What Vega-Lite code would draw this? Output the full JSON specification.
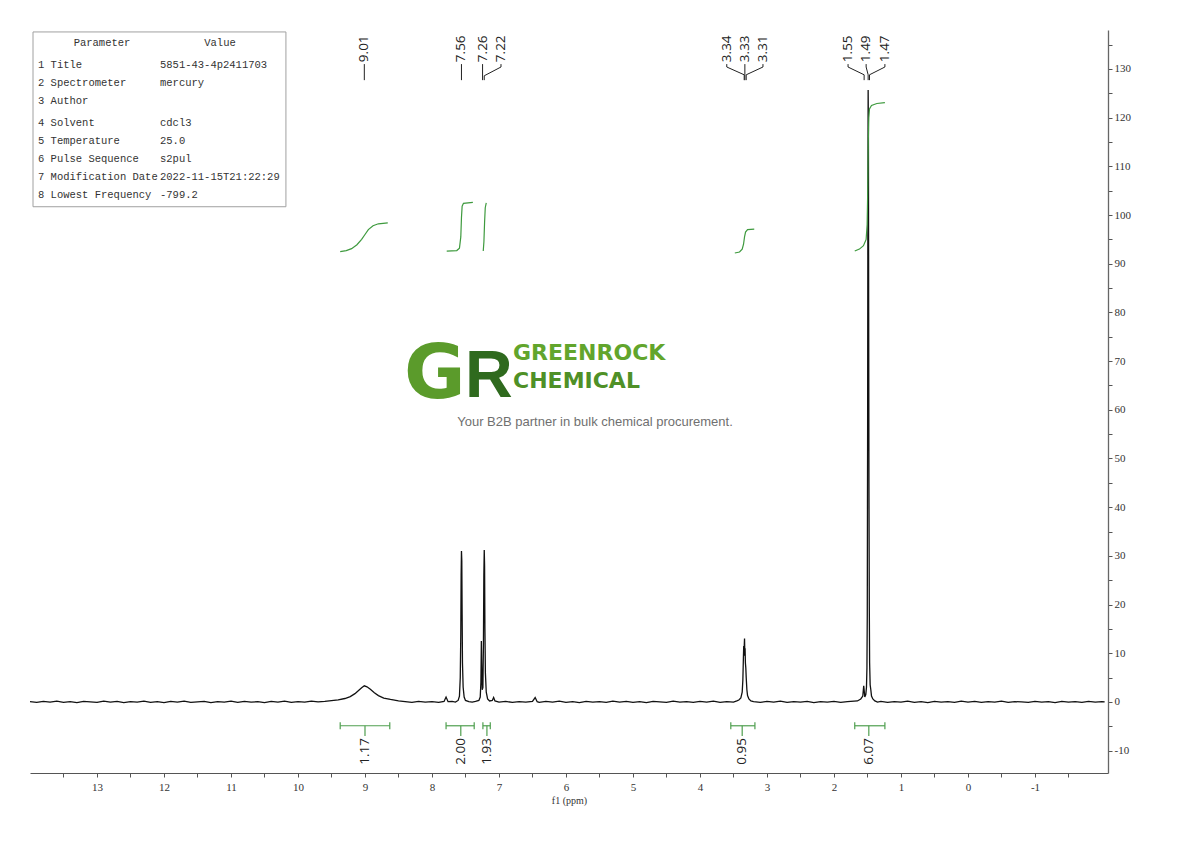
{
  "$schema": "https://vega.github.io/schema/vega-lite/v6.json",
  "width": 1078,
  "height": 743,
  "autosize": {"type": "none"},
  "padding": {"left": 30, "top": 30, "right": 82, "bottom": 68},
  "background": "white",
  "config": {"view": {"stroke": null}},
  "resolve": {"axis": {"x": "independent", "y": "independent"}},
  "datasets": {
    "spectrum": [
      {"ppm":14.0,"val":0.05},{"ppm":13.9,"val":-0.1},{"ppm":13.8,"val":0.1},{"ppm":13.7,"val":-0.05},{"ppm":13.6,"val":0.15},{"ppm":13.5,"val":-0.1},{"ppm":13.4,"val":0.05},{"ppm":13.3,"val":-0.15},{"ppm":13.2,"val":0.1},{"ppm":13.1,"val":0.0},
      {"ppm":13.0,"val":-0.1},{"ppm":12.9,"val":0.15},{"ppm":12.8,"val":-0.05},{"ppm":12.7,"val":0.1},{"ppm":12.6,"val":-0.15},{"ppm":12.5,"val":0.05},{"ppm":12.4,"val":-0.05},{"ppm":12.3,"val":0.15},{"ppm":12.2,"val":-0.1},{"ppm":12.1,"val":0.05},
      {"ppm":12.0,"val":-0.15},{"ppm":11.9,"val":0.1},{"ppm":11.8,"val":-0.05},{"ppm":11.7,"val":0.15},{"ppm":11.6,"val":-0.1},{"ppm":11.5,"val":0.0},{"ppm":11.4,"val":0.1},{"ppm":11.3,"val":-0.15},{"ppm":11.2,"val":0.05},{"ppm":11.1,"val":-0.05},
      {"ppm":11.0,"val":0.15},{"ppm":10.9,"val":-0.1},{"ppm":10.8,"val":0.1},{"ppm":10.7,"val":-0.05},{"ppm":10.6,"val":0.05},{"ppm":10.5,"val":-0.15},{"ppm":10.4,"val":0.1},{"ppm":10.3,"val":-0.05},{"ppm":10.2,"val":0.15},{"ppm":10.1,"val":-0.1},
      {"ppm":10.0,"val":0.05},{"ppm":9.9,"val":-0.05},{"ppm":9.8,"val":0.15},{"ppm":9.7,"val":0.0},{"ppm":9.6,"val":0.1},{"ppm":9.5,"val":0.25},{"ppm":9.4,"val":0.4},{"ppm":9.3,"val":0.7},{"ppm":9.22,"val":1.1},{"ppm":9.15,"val":1.7},
      {"ppm":9.1,"val":2.3},{"ppm":9.05,"val":2.9},{"ppm":9.01,"val":3.3},{"ppm":8.97,"val":3.1},{"ppm":8.92,"val":2.6},{"ppm":8.86,"val":1.9},{"ppm":8.8,"val":1.3},{"ppm":8.72,"val":0.8},{"ppm":8.62,"val":0.5},{"ppm":8.5,"val":0.2},
      {"ppm":8.4,"val":0.05},{"ppm":8.3,"val":-0.1},{"ppm":8.2,"val":0.1},{"ppm":8.1,"val":-0.05},{"ppm":8.0,"val":0.05},{"ppm":7.9,"val":-0.1},{"ppm":7.82,"val":0.1},{"ppm":7.79,"val":1.0},{"ppm":7.76,"val":0.05},{"ppm":7.7,"val":0.1},
      {"ppm":7.65,"val":-0.05},{"ppm":7.61,"val":0.3},{"ppm":7.59,"val":1.2},{"ppm":7.578,"val":5},{"ppm":7.57,"val":14},{"ppm":7.565,"val":26},{"ppm":7.56,"val":31},{"ppm":7.555,"val":29},{"ppm":7.55,"val":18},{"ppm":7.545,"val":8},
      {"ppm":7.535,"val":3},{"ppm":7.52,"val":1.0},{"ppm":7.5,"val":0.3},{"ppm":7.45,"val":0.05},{"ppm":7.4,"val":-0.05},{"ppm":7.35,"val":0.1},{"ppm":7.3,"val":0.3},{"ppm":7.28,"val":1.0},{"ppm":7.27,"val":4},{"ppm":7.263,"val":12.5},
      {"ppm":7.258,"val":8},{"ppm":7.25,"val":2.5},{"ppm":7.24,"val":3},{"ppm":7.232,"val":12},{"ppm":7.226,"val":26},{"ppm":7.22,"val":31.2},{"ppm":7.215,"val":28},{"ppm":7.21,"val":15},{"ppm":7.203,"val":6},{"ppm":7.19,"val":2},
      {"ppm":7.17,"val":0.6},{"ppm":7.14,"val":0.2},{"ppm":7.1,"val":0.3},{"ppm":7.08,"val":0.9},{"ppm":7.06,"val":0.2},{"ppm":7.0,"val":-0.05},{"ppm":6.9,"val":0.1},{"ppm":6.8,"val":-0.1},{"ppm":6.7,"val":0.05},{"ppm":6.6,"val":-0.05},
      {"ppm":6.5,"val":0.1},{"ppm":6.46,"val":0.9},{"ppm":6.43,"val":0.05},{"ppm":6.4,"val":-0.1},{"ppm":6.3,"val":0.1},{"ppm":6.2,"val":-0.05},{"ppm":6.1,"val":0.15},{"ppm":6.0,"val":-0.1},{"ppm":5.9,"val":0.05},{"ppm":5.8,"val":-0.15},
      {"ppm":5.7,"val":0.1},{"ppm":5.6,"val":-0.05},{"ppm":5.5,"val":0.05},{"ppm":5.4,"val":-0.1},{"ppm":5.3,"val":0.15},{"ppm":5.2,"val":-0.05},{"ppm":5.1,"val":0.1},{"ppm":5.0,"val":-0.1},{"ppm":4.9,"val":0.05},{"ppm":4.8,"val":-0.15},
      {"ppm":4.7,"val":0.1},{"ppm":4.6,"val":0.0},{"ppm":4.5,"val":-0.1},{"ppm":4.4,"val":0.15},{"ppm":4.3,"val":-0.05},{"ppm":4.2,"val":0.05},{"ppm":4.1,"val":-0.1},{"ppm":4.0,"val":0.1},{"ppm":3.9,"val":-0.05},{"ppm":3.8,"val":0.15},
      {"ppm":3.7,"val":-0.1},{"ppm":3.6,"val":0.05},{"ppm":3.5,"val":-0.05},{"ppm":3.45,"val":0.2},{"ppm":3.42,"val":0.4},{"ppm":3.39,"val":0.8},{"ppm":3.37,"val":2},{"ppm":3.36,"val":4.5},{"ppm":3.352,"val":9},{"ppm":3.347,"val":11.5},
      {"ppm":3.343,"val":9.5},{"ppm":3.338,"val":12},{"ppm":3.335,"val":13},{"ppm":3.331,"val":10},{"ppm":3.327,"val":11},{"ppm":3.322,"val":8},{"ppm":3.316,"val":7},{"ppm":3.31,"val":5},{"ppm":3.3,"val":2.5},{"ppm":3.29,"val":1.3},
      {"ppm":3.27,"val":0.6},{"ppm":3.24,"val":0.2},{"ppm":3.2,"val":0.05},{"ppm":3.1,"val":-0.1},{"ppm":3.0,"val":0.1},{"ppm":2.9,"val":-0.05},{"ppm":2.8,"val":0.15},{"ppm":2.7,"val":-0.1},{"ppm":2.6,"val":0.05},{"ppm":2.5,"val":-0.05},
      {"ppm":2.4,"val":0.1},{"ppm":2.3,"val":-0.15},{"ppm":2.2,"val":0.05},{"ppm":2.1,"val":-0.05},{"ppm":2.0,"val":0.1},{"ppm":1.9,"val":-0.1},{"ppm":1.8,"val":0.05},{"ppm":1.7,"val":0.15},{"ppm":1.65,"val":0.2},{"ppm":1.6,"val":0.6},
      {"ppm":1.57,"val":1.2},{"ppm":1.556,"val":3.3},{"ppm":1.55,"val":2.5},{"ppm":1.54,"val":1.0},{"ppm":1.525,"val":1.5},{"ppm":1.515,"val":3},{"ppm":1.508,"val":7},{"ppm":1.503,"val":18},{"ppm":1.498,"val":55},{"ppm":1.494,"val":100},
      {"ppm":1.49,"val":125.7},{"ppm":1.486,"val":117},{"ppm":1.482,"val":80},{"ppm":1.478,"val":45},{"ppm":1.473,"val":20},{"ppm":1.468,"val":8},{"ppm":1.46,"val":3.5},{"ppm":1.45,"val":2.5},{"ppm":1.44,"val":1.2},{"ppm":1.42,"val":0.6},
      {"ppm":1.39,"val":0.2},{"ppm":1.35,"val":-0.05},{"ppm":1.3,"val":0.1},{"ppm":1.2,"val":-0.1},{"ppm":1.1,"val":0.05},{"ppm":1.0,"val":-0.05},{"ppm":0.9,"val":0.15},{"ppm":0.8,"val":-0.1},{"ppm":0.7,"val":0.05},{"ppm":0.6,"val":-0.15},
      {"ppm":0.5,"val":0.1},{"ppm":0.4,"val":-0.05},{"ppm":0.3,"val":0.05},{"ppm":0.2,"val":-0.1},{"ppm":0.1,"val":0.15},{"ppm":0.0,"val":-0.05},{"ppm":-0.1,"val":0.1},{"ppm":-0.2,"val":-0.1},{"ppm":-0.3,"val":0.05},{"ppm":-0.4,"val":-0.05},
      {"ppm":-0.5,"val":0.15},{"ppm":-0.6,"val":-0.1},{"ppm":-0.7,"val":0.05},{"ppm":-0.8,"val":0.0},{"ppm":-0.9,"val":-0.1},{"ppm":-1.0,"val":0.1},{"ppm":-1.1,"val":-0.05},{"ppm":-1.2,"val":0.05},{"ppm":-1.3,"val":-0.15},{"ppm":-1.4,"val":0.1},
      {"ppm":-1.5,"val":-0.05},{"ppm":-1.6,"val":0.05},{"ppm":-1.7,"val":-0.1},{"ppm":-1.8,"val":0.1},{"ppm":-1.9,"val":-0.05},{"ppm":-2.0,"val":0.05},{"ppm":-2.04,"val":0.0}
    ],
    "integrals": [
      {"curve":"A","ppm":9.37,"val":92.5},{"curve":"A","ppm":9.28,"val":92.7},{"curve":"A","ppm":9.2,"val":93.1},{"curve":"A","ppm":9.12,"val":93.9},{"curve":"A","ppm":9.05,"val":95.0},{"curve":"A","ppm":9.0,"val":96.0},{"curve":"A","ppm":8.95,"val":97.0},{"curve":"A","ppm":8.88,"val":97.8},{"curve":"A","ppm":8.8,"val":98.2},{"curve":"A","ppm":8.66,"val":98.4},
      {"curve":"B","ppm":7.78,"val":92.6},{"curve":"B","ppm":7.63,"val":92.7},{"curve":"B","ppm":7.59,"val":93.2},{"curve":"B","ppm":7.57,"val":95.5},{"curve":"B","ppm":7.56,"val":99.5},{"curve":"B","ppm":7.55,"val":101.8},{"curve":"B","ppm":7.53,"val":102.4},{"curve":"B","ppm":7.39,"val":102.6},
      {"curve":"C","ppm":7.235,"val":92.6},{"curve":"C","ppm":7.225,"val":94.5},{"curve":"C","ppm":7.215,"val":98.5},{"curve":"C","ppm":7.205,"val":101.5},{"curve":"C","ppm":7.19,"val":102.5},
      {"curve":"D","ppm":3.48,"val":92.2},{"curve":"D","ppm":3.41,"val":92.4},{"curve":"D","ppm":3.37,"val":93.0},{"curve":"D","ppm":3.35,"val":94.0},{"curve":"D","ppm":3.335,"val":95.5},{"curve":"D","ppm":3.32,"val":96.5},{"curve":"D","ppm":3.29,"val":97.0},{"curve":"D","ppm":3.19,"val":97.1},
      {"curve":"E","ppm":1.69,"val":92.6},{"curve":"E","ppm":1.62,"val":93.0},{"curve":"E","ppm":1.56,"val":93.7},{"curve":"E","ppm":1.52,"val":95.0},{"curve":"E","ppm":1.505,"val":98.0},{"curve":"E","ppm":1.495,"val":106.0},{"curve":"E","ppm":1.488,"val":115.0},{"curve":"E","ppm":1.48,"val":120.0},{"curve":"E","ppm":1.47,"val":121.8},{"curve":"E","ppm":1.44,"val":122.5},{"curve":"E","ppm":1.36,"val":122.9},{"curve":"E","ppm":1.24,"val":123.1}
    ],
    "intbars": [
      {"label":"1.17","from":9.37,"to":8.63,"center":9.0},
      {"label":"2.00","from":7.79,"to":7.37,"center":7.57},
      {"label":"1.93","from":7.24,"to":7.13,"center":7.18},
      {"label":"0.95","from":3.54,"to":3.18,"center":3.37},
      {"label":"6.07","from":1.69,"to":1.24,"center":1.48}
    ],
    "peaklabels": [
      {"label":"9.01","lx":9.01},{"label":"7.56","lx":7.56},{"label":"7.26","lx":7.245},{"label":"7.22","lx":6.97},
      {"label":"3.34","lx":3.6},{"label":"3.33","lx":3.33},{"label":"3.31","lx":3.06},
      {"label":"1.55","lx":1.79},{"label":"1.49","lx":1.52},{"label":"1.47","lx":1.24}
    ],
    "connectors": [
      {"id":"a","ord":0,"ppm":9.01,"val":131.0},{"id":"a","ord":1,"ppm":9.01,"val":127.7},
      {"id":"b","ord":0,"ppm":7.56,"val":131.0},{"id":"b","ord":1,"ppm":7.56,"val":127.7},
      {"id":"c","ord":0,"ppm":7.245,"val":131.0},{"id":"c","ord":1,"ppm":7.245,"val":127.7},
      {"id":"d","ord":0,"ppm":6.97,"val":131.0},{"id":"d","ord":1,"ppm":6.97,"val":130.4},{"id":"d","ord":2,"ppm":7.22,"val":128.6},{"id":"d","ord":3,"ppm":7.22,"val":127.7},
      {"id":"e","ord":0,"ppm":3.6,"val":131.0},{"id":"e","ord":1,"ppm":3.6,"val":130.4},{"id":"e","ord":2,"ppm":3.34,"val":128.8},{"id":"e","ord":3,"ppm":3.34,"val":127.7},
      {"id":"f","ord":0,"ppm":3.33,"val":131.0},{"id":"f","ord":1,"ppm":3.33,"val":127.7},
      {"id":"g","ord":0,"ppm":3.06,"val":131.0},{"id":"g","ord":1,"ppm":3.06,"val":130.4},{"id":"g","ord":2,"ppm":3.31,"val":128.8},{"id":"g","ord":3,"ppm":3.31,"val":127.7},
      {"id":"h","ord":0,"ppm":1.79,"val":131.0},{"id":"h","ord":1,"ppm":1.79,"val":130.4},{"id":"h","ord":2,"ppm":1.55,"val":128.8},{"id":"h","ord":3,"ppm":1.55,"val":127.7},
      {"id":"i","ord":0,"ppm":1.52,"val":131.0},{"id":"i","ord":1,"ppm":1.52,"val":130.4},{"id":"i","ord":2,"ppm":1.49,"val":128.8},{"id":"i","ord":3,"ppm":1.49,"val":127.7},
      {"id":"j","ord":0,"ppm":1.24,"val":131.0},{"id":"j","ord":1,"ppm":1.24,"val":130.4},{"id":"j","ord":2,"ppm":1.47,"val":128.8},{"id":"j","ord":3,"ppm":1.47,"val":127.7}
    ]
  },
  "layer": [
    {
      "data": {"name": "spectrum"},
      "mark": {"type": "line", "color": "#111111", "strokeWidth": 1.3},
      "encoding": {
        "x": {
          "field": "ppm", "type": "quantitative",
          "scale": {"domain": [-2.09, 14.0], "reverse": true, "nice": false, "zero": false},
          "axis": {
            "orient": "bottom",
            "values": [13.5,13,12.5,12,11.5,11,10.5,10,9.5,9,8.5,8,7.5,7,6.5,6,5.5,5,4.5,4,3.5,3,2.5,2,1.5,1,0.5,0,-0.5,-1,-1.5],
            "labelExpr": "datum.value % 1 === 0 ? '' + datum.value : ''",
            "grid": false, "tickSize": 4, "tickColor": "#555555", "domainColor": "#555555",
            "labelColor": "#333333", "labelFont": "Liberation Serif", "labelFontSize": 11, "labelPadding": 4,
            "labelFlush": false, "labelOverlap": false,
            "title": "f1 (ppm)", "titleFont": "Liberation Serif", "titleFontSize": 10, "titleFontWeight": "normal",
            "titleColor": "#333333", "titlePadding": 3
          }
        },
        "y": {
          "field": "val", "type": "quantitative",
          "scale": {"domain": [-14.6, 138], "nice": false, "zero": false},
          "axis": {
            "orient": "right",
            "values": [-10,-5,0,5,10,15,20,25,30,35,40,45,50,55,60,65,70,75,80,85,90,95,100,105,110,115,120,125,130,135],
            "labelExpr": "datum.value % 10 === 0 ? '' + datum.value : ''",
            "grid": false, "tickSize": 4, "tickColor": "#555555", "domainColor": "#666666", "domainWidth": 1.3,
            "labelColor": "#333333", "labelFont": "Liberation Serif", "labelFontSize": 11, "labelPadding": 2,
            "labelFlush": false, "labelOverlap": false, "title": null
          }
        }
      }
    },
    {
      "data": {"name": "integrals"},
      "mark": {"type": "line", "color": "#3e9a3e", "strokeWidth": 1.2},
      "encoding": {
        "x": {"field": "ppm", "type": "quantitative", "axis": null},
        "y": {"field": "val", "type": "quantitative", "axis": null},
        "detail": {"field": "curve"}
      }
    },
    {
      "data": {"name": "intbars"},
      "mark": {"type": "rule", "color": "#4f9f4f", "strokeWidth": 1.2},
      "encoding": {
        "x": {"field": "from", "type": "quantitative", "axis": null},
        "x2": {"field": "to"},
        "y": {"datum": -4.9, "axis": null}
      }
    },
    {
      "data": {"name": "intbars"},
      "mark": {"type": "rule", "color": "#4f9f4f", "strokeWidth": 1.2},
      "encoding": {
        "x": {"field": "from", "type": "quantitative", "axis": null},
        "y": {"datum": -4.2, "axis": null},
        "y2": {"datum": -5.6}
      }
    },
    {
      "data": {"name": "intbars"},
      "mark": {"type": "rule", "color": "#4f9f4f", "strokeWidth": 1.2},
      "encoding": {
        "x": {"field": "to", "type": "quantitative", "axis": null},
        "y": {"datum": -4.2, "axis": null},
        "y2": {"datum": -5.6}
      }
    },
    {
      "data": {"name": "intbars"},
      "mark": {"type": "rule", "color": "#4f9f4f", "strokeWidth": 1.2},
      "encoding": {
        "x": {"field": "center", "type": "quantitative", "axis": null},
        "y": {"datum": -4.9, "axis": null},
        "y2": {"datum": -7.0}
      }
    },
    {
      "data": {"name": "intbars"},
      "mark": {"type": "text", "angle": 270, "align": "right", "baseline": "middle", "font": "Open Sans", "fontSize": 13.5, "color": "#222222"},
      "encoding": {
        "x": {"field": "center", "type": "quantitative", "axis": null},
        "y": {"datum": -7.4, "axis": null},
        "text": {"field": "label"}
      }
    },
    {
      "data": {"name": "peaklabels"},
      "mark": {"type": "text", "angle": 270, "align": "left", "baseline": "middle", "font": "Open Sans", "fontSize": 13.5, "color": "#222222"},
      "encoding": {
        "x": {"field": "lx", "type": "quantitative", "axis": null},
        "y": {"datum": 131.4, "axis": null},
        "text": {"field": "label"}
      }
    },
    {
      "data": {"name": "connectors"},
      "mark": {"type": "line", "color": "#222222", "strokeWidth": 1},
      "encoding": {
        "x": {"field": "ppm", "type": "quantitative", "axis": null},
        "y": {"field": "val", "type": "quantitative", "axis": null},
        "detail": {"field": "id"},
        "order": {"field": "ord"}
      }
    },
    {
      "data": {"values": [{}]},
      "mark": {"type": "rect", "fill": "white", "fillOpacity": 0, "stroke": "#a0a0a0", "strokeWidth": 1},
      "encoding": {
        "x": {"datum": 13.955, "axis": null},
        "x2": {"datum": 10.18},
        "y": {"datum": 137.6, "axis": null},
        "y2": {"datum": 101.7}
      }
    },
    {
      "data": {"values": [{}]},
      "mark": {"type": "text", "align": "center", "baseline": "middle", "font": "Liberation Mono", "fontSize": 10.5, "color": "#333333"},
      "encoding": {"x": {"datum": 12.925, "axis": null}, "y": {"datum": 135.35, "axis": null}, "text": {"value": "Parameter"}}
    },
    {
      "data": {"values": [{}]},
      "mark": {"type": "text", "align": "center", "baseline": "middle", "font": "Liberation Mono", "fontSize": 10.5, "color": "#333333"},
      "encoding": {"x": {"datum": 11.164, "axis": null}, "y": {"datum": 135.35, "axis": null}, "text": {"value": "Value"}}
    },
    {
      "data": {"values": [{}]},
      "mark": {"type": "text", "align": "left", "baseline": "top", "lineBreak": "\n", "lineHeight": 18, "font": "Liberation Mono", "fontSize": 10.5, "color": "#333333"},
      "encoding": {"x": {"datum": 13.881, "axis": null}, "y": {"datum": 131.75, "axis": null}, "text": {"value": "1 Title\n2 Spectrometer\n3 Author"}}
    },
    {
      "data": {"values": [{}]},
      "mark": {"type": "text", "align": "left", "baseline": "top", "lineBreak": "\n", "lineHeight": 18, "font": "Liberation Mono", "fontSize": 10.5, "color": "#333333"},
      "encoding": {"x": {"datum": 12.06, "axis": null}, "y": {"datum": 131.75, "axis": null}, "text": {"value": "5851-43-4p2411703\nmercury"}}
    },
    {
      "data": {"values": [{}]},
      "mark": {"type": "text", "align": "left", "baseline": "top", "lineBreak": "\n", "lineHeight": 17.8, "font": "Liberation Mono", "fontSize": 10.5, "color": "#333333"},
      "encoding": {"x": {"datum": 13.881, "axis": null}, "y": {"datum": 119.84, "axis": null}, "text": {"value": "4 Solvent\n5 Temperature\n6 Pulse Sequence\n7 Modification Date\n8 Lowest Frequency"}}
    },
    {
      "data": {"values": [{}]},
      "mark": {"type": "text", "align": "left", "baseline": "top", "lineBreak": "\n", "lineHeight": 17.8, "font": "Liberation Mono", "fontSize": 10.5, "color": "#333333"},
      "encoding": {"x": {"datum": 12.06, "axis": null}, "y": {"datum": 119.84, "axis": null}, "text": {"value": "cdcl3\n25.0\ns2pul\n2022-11-15T21:22:29\n-799.2"}}
    },
    {
      "data": {"values": [{}]},
      "mark": {"type": "text", "align": "center", "baseline": "alphabetic", "font": "DejaVu Sans", "fontWeight": "bold", "fontSize": 75, "color": "#5b9b2b"},
      "encoding": {"x": {"datum": 7.96, "axis": null}, "y": {"datum": 62.4, "axis": null}, "text": {"value": "G"}}
    },
    {
      "data": {"values": [{}]},
      "mark": {"type": "text", "align": "center", "baseline": "alphabetic", "font": "Liberation Sans Narrow, Liberation Sans", "fontWeight": "bold", "fontSize": 66, "color": "#2f6a1e"},
      "encoding": {"x": {"datum": 7.15, "axis": null}, "y": {"datum": 62.6, "axis": null}, "text": {"value": "R"}}
    },
    {
      "data": {"values": [{}]},
      "mark": {"type": "text", "align": "left", "baseline": "alphabetic", "font": "DejaVu Sans", "fontWeight": "bold", "fontSize": 22, "color": "#62a52c"},
      "encoding": {"x": {"datum": 6.79, "axis": null}, "y": {"datum": 70.2, "axis": null}, "text": {"value": "GREENROCK"}}
    },
    {
      "data": {"values": [{}]},
      "mark": {"type": "text", "align": "left", "baseline": "alphabetic", "font": "DejaVu Sans", "fontWeight": "bold", "fontSize": 22, "color": "#4f9027"},
      "encoding": {"x": {"datum": 6.79, "axis": null}, "y": {"datum": 64.4, "axis": null}, "text": {"value": "CHEMICAL"}}
    },
    {
      "data": {"values": [{}]},
      "mark": {"type": "text", "align": "center", "baseline": "middle", "font": "Liberation Sans", "fontSize": 13, "color": "#707070"},
      "encoding": {"x": {"datum": 5.567, "axis": null}, "y": {"datum": 57.5, "axis": null}, "text": {"value": "Your B2B partner in bulk chemical procurement."}}
    }
  ]
}
